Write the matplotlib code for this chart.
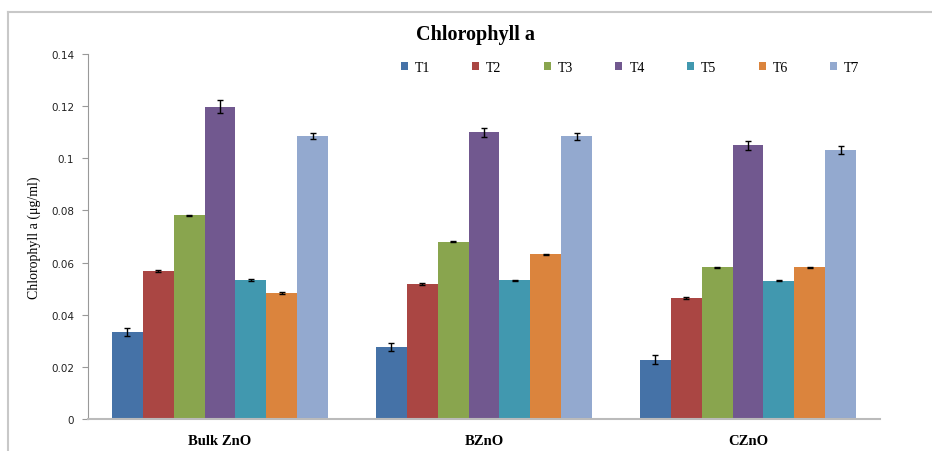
import numpy as np
import matplotlib
matplotlib.use("Agg")
from matplotlib import pyplot as plt
from matplotlib.lines import Line2D

groups = ["Bulk ZnO", "BZnO", "CZnO"]
series = ["T1", "T2", "T3", "T4", "T5", "T6", "T7"]
values = [
    [0.0334, 0.0568, 0.0782, 0.1197, 0.0534, 0.0483, 0.1085],  # Bulk ZnO
    [0.0277, 0.0517, 0.0680, 0.1100, 0.0532, 0.0632, 0.1084],  # BZnO
    [0.0228, 0.0465, 0.0582, 0.1050, 0.0531, 0.0582, 0.1033],  # CZnO
]
errors = [
    [0.0015, 0.0003, 0.0002, 0.0025, 0.0004, 0.0004, 0.0012],
    [0.0015, 0.0003, 0.0002, 0.0017, 0.0003, 0.0002, 0.0013],
    [0.0016, 0.0003, 0.0002, 0.0017, 0.0003, 0.0002, 0.0015],
]
colors = ["#4572A7", "#AA4643", "#89A54E", "#71588F", "#4198AF", "#DB843D", "#93A9CF"]

W, H = 932, 452
fig = plt.figure(figsize=(W / 100, H / 100), dpi=100)
ax = fig.add_axes([88 / W, 1 - 420 / H, (880 - 88) / W, (420 - 55) / H])

vals = np.array(values)
errs = np.array(errors)
x = np.arange(len(groups))
bw = 0.82 / len(series)
for i, s in enumerate(series):
    pos = x - 0.41 + bw * (i + 0.5)
    ax.bar(pos, vals[:, i], width=bw, color=colors[i], label=s,
           yerr=errs[:, i], capsize=2.5,
           error_kw=dict(ecolor="black", elinewidth=1.0, capthick=1.0))

ax.set_xlim(-0.5, 2.5)
ax.set_ylim(0, 0.14)
ax.set_yticks(np.arange(0, 0.141, 0.02))
ax.set_yticklabels(["0", "0.02", "0.04", "0.06", "0.08", "0.1", "0.12", "0.14"],
                   fontsize=7.5, color="#222222")
ax.set_xticks(x)
ax.set_xticklabels(groups, family="Liberation Serif", fontsize=10.5, fontweight="bold")
ax.tick_params(axis="x", length=0, pad=11)
ax.tick_params(axis="y", length=4, color="#999999", pad=6)
for sp in ["top", "right"]:
    ax.spines[sp].set_visible(False)
ax.spines["left"].set_color("#999999")
ax.spines["bottom"].set_color("#bbbbbb")
ax.spines["bottom"].set_linewidth(1.5)

ax.set_ylabel("Chlorophyll a (μg/ml)", family="Liberation Serif", fontsize=10,
              labelpad=7)

fig.text(476 / W, 1 - 35 / H, "Chlorophyll a", ha="center", va="center",
         family="Liberation Serif", fontsize=14.5, fontweight="bold")

leg = fig.legend(loc="center", bbox_to_anchor=(630 / W, 1 - 68 / H), ncol=7,
                 frameon=False, prop=dict(family="Liberation Serif", size=10),
                 handlelength=0.5, handleheight=0.5, handletextpad=0.5,
                 columnspacing=3.05)

# chart frame
fig.add_artist(Line2D([8 / W, 1], [1 - 13 / H, 1 - 13 / H], color="#c8c8c8", lw=1.5))
fig.add_artist(Line2D([8 / W, 8 / W], [0, 1 - 13 / H], color="#c8c8c8", lw=1.5))

fig.savefig("out.png", dpi=100)
